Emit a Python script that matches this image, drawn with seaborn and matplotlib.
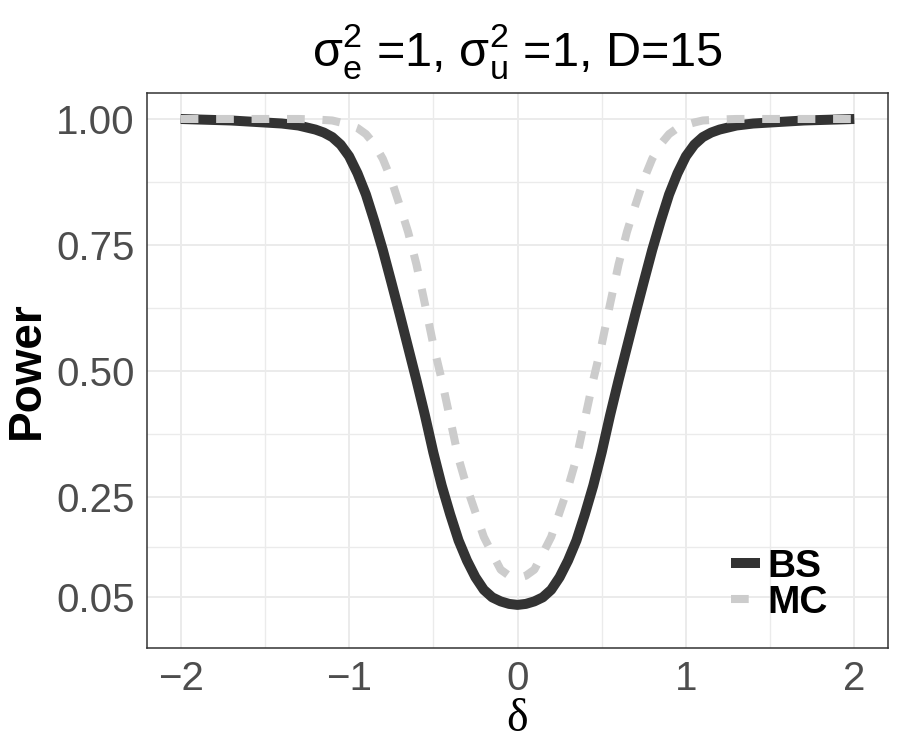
import numpy as np
import pandas as pd
import matplotlib
matplotlib.use('Agg')
import matplotlib.pyplot as plt
import seaborn as sns

# power curves
delta = [-2.0, -1.9, -1.8, -1.7, -1.6, -1.5, -1.4, -1.3,
         -1.2, -1.15, -1.1, -1.05, -1.0, -0.95, -0.9, -0.85, -0.8, -0.75, -0.7, -0.65,
         -0.6, -0.55, -0.5, -0.45, -0.4, -0.35, -0.3, -0.25, -0.2, -0.15, -0.1, -0.05,
         0.0,
         0.05, 0.1, 0.15, 0.2, 0.25, 0.3, 0.35, 0.4, 0.45, 0.5, 0.55, 0.6,
         0.65, 0.7, 0.75, 0.8, 0.85, 0.9, 0.95, 1.0, 1.05, 1.1, 1.15, 1.2,
         1.3, 1.4, 1.5, 1.6, 1.7, 1.8, 1.9, 2.0]
power_bs = [1.000, 0.999, 0.998, 0.997, 0.995, 0.993, 0.991, 0.987,
            0.979, 0.973, 0.964, 0.949, 0.926, 0.892, 0.850, 0.797, 0.740, 0.677, 0.613, 0.547,
            0.481, 0.412, 0.338, 0.272, 0.215, 0.163, 0.123, 0.090, 0.065, 0.050, 0.042, 0.037,
            0.035,
            0.037, 0.042, 0.050, 0.065, 0.090, 0.123, 0.163, 0.215, 0.272, 0.338, 0.412, 0.481,
            0.547, 0.613, 0.677, 0.740, 0.797, 0.850, 0.892, 0.926, 0.949, 0.964, 0.973, 0.979,
            0.987, 0.991, 0.993, 0.995, 0.997, 0.998, 0.999, 1.000]
power_mc = [1.000, 1.000, 1.000, 1.000, 1.000, 1.000, 1.000, 1.000,
            0.999, 0.998, 0.997, 0.993, 0.988, 0.982, 0.970, 0.950, 0.921, 0.880, 0.829, 0.776,
            0.711, 0.633, 0.552, 0.482, 0.404, 0.326, 0.268, 0.219, 0.170, 0.137, 0.105, 0.093,
            0.088,
            0.093, 0.105, 0.137, 0.170, 0.219, 0.268, 0.326, 0.404, 0.482, 0.552, 0.633, 0.711,
            0.776, 0.829, 0.880, 0.921, 0.950, 0.970, 0.982, 0.988, 0.993, 0.997, 0.998, 0.999,
            1.000, 1.000, 1.000, 1.000, 1.000, 1.000, 1.000, 1.000]
methods = ['BS', 'MC']
xticks = [-2, -1, 0, 1, 2]
xminor = [-1.5, -0.5, 0.5, 1.5]
yticks = [0.05, 0.25, 0.50, 0.75, 1.00]
ytick_labels = ['0.05', '0.25', '0.50', '0.75', '1.00']
yminor = [0.15, 0.375, 0.625, 0.875]

df = pd.DataFrame({
    'delta': delta * 2,
    'power': power_bs + power_mc,
    'method': [methods[0]] * len(delta) + [methods[1]] * len(delta),
})

sns.set_style('white')
plt.rcParams['font.family'] = ['Liberation Sans', 'DejaVu Sans']
plt.rcParams['mathtext.fontset'] = 'custom'
plt.rcParams['mathtext.rm'] = 'Liberation Sans'
plt.rcParams['mathtext.it'] = 'Liberation Sans'
plt.rcParams['mathtext.default'] = 'regular'

fig = plt.figure(figsize=(9, 7.5), dpi=100)
ax = fig.add_axes([147 / 900, 1 - 647.7 / 750, (888 - 147) / 900, (647.7 - 93.3) / 750])

sns.lineplot(data=df[df['method'] == 'BS'], x='delta', y='power', ax=ax,
             color='#333333', linewidth=7.2, label='BS')
sns.lineplot(data=df[df['method'] == 'MC'], x='delta', y='power', ax=ax,
             color='#CCCCCC', linewidth=5.8, label='MC')
ax.lines[0].set_solid_capstyle('butt')
ax.lines[0].set_solid_joinstyle('round')
ax.lines[1].set_linestyle((0, (2.2, 2.2)))
ax.lines[1].set_dash_capstyle('butt')
ax.lines[1].set_zorder(3)

ax.set_xlim(-2.2, 2.2)
ax.set_ylim(-0.050, 1.051)
ax.set_xticks(xticks)
ax.set_xticklabels(['\u22122', '\u22121', '0', '1', '2'])
ax.set_xticks(xminor, minor=True)
ax.set_yticks(yticks)
ax.set_yticklabels(ytick_labels)
ax.set_yticks(yminor, minor=True)

ax.grid(which='major', color='#EBEBEB', linewidth=1.4)
ax.grid(which='minor', color='#EBEBEB', linewidth=1.0)
ax.set_axisbelow(True)
for s in ax.spines.values():
    s.set_color('#333333')
    s.set_linewidth(1.1)

ax.tick_params(which='major', length=5, width=1.0, color='#333333',
               labelcolor='#4D4D4D', labelsize=29, pad=4)
ax.tick_params(which='minor', length=0)

ax.set_xlabel('\u03b4', fontsize=33, color='black',
              family=['Liberation Serif', 'DejaVu Serif'], labelpad=0)
ax.set_ylabel('Power', fontsize=33, fontweight='bold', color='black', labelpad=5)
ax.set_title(r'$\sigma_e^2$ =1, $\sigma_u^2$ =1, D=15', fontsize=35, color='black', pad=20)

leg = ax.legend(loc='upper left', bbox_to_anchor=(730.7 / 900, 1 - 549 / 750),
                bbox_transform=fig.transFigure, frameon=False, borderpad=0,
                borderaxespad=0, handlelength=0.75, handletextpad=0.2,
                labelspacing=0.0, prop={'size': 28, 'weight': 'bold'})
for t in leg.get_texts():
    t.set_color('black')

fig.savefig('out.png', dpi=100)
